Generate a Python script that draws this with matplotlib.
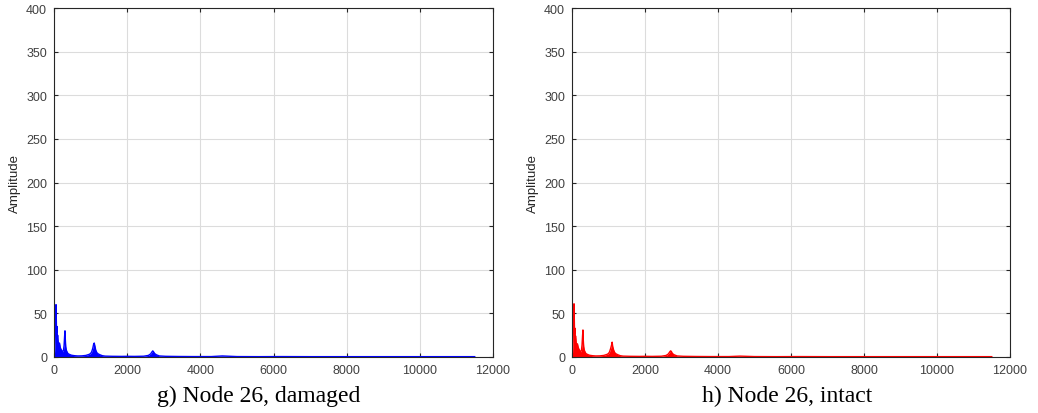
import matplotlib
matplotlib.use("Agg")
import matplotlib.pyplot as plt

# ---- data ----
freq = [0, 15, 30, 45, 55, 62, 70, 80, 90, 100, 115, 130, 150, 170, 190, 215, 240,
        260, 275, 290, 300, 310, 320, 335, 355, 380, 420, 480, 560, 650, 760, 870,
        960, 1000, 1030, 1060, 1085, 1100, 1115, 1140, 1170, 1210, 1260, 1320, 1400,
        1600, 1850, 2000, 2200, 2450, 2580, 2640, 2680, 2700, 2720, 2750, 2800, 2880,
        3050, 3400, 3800, 4300, 4600, 5000, 5600, 6200, 7000, 7800, 8600, 9400,
        10200, 11000, 11500]

amp_damaged = [1, 5, 16, 40, 60, 46, 28, 35, 22, 25, 17, 14, 16, 11, 9, 7, 6,
               8, 13, 24, 30, 20, 12, 8, 6, 4, 3, 2, 1.5, 1.2, 1.3, 1.8,
               3, 4, 6, 10, 15, 16, 13, 8, 5, 3.5, 2.5, 1.5, 1,
               0.8, 0.7, 0.8, 0.7, 0.9, 1.8, 3.5, 6, 7, 6, 4, 2.5, 1.2,
               0.8, 0.6, 0.5, 0.5, 1.2, 0.5, 0.4, 0.5, 0.4, 0.4, 0.4, 0.4,
               0.4, 0.4, 0.4]

amp_intact = [1, 5, 18, 42, 61, 47, 27, 33, 23, 24, 16, 15, 15, 11, 9, 7, 6,
              8, 14, 25, 31, 19, 12, 8, 6, 4, 3, 2, 1.5, 1.2, 1.3, 1.8,
              3, 4, 6, 10, 14, 17, 12, 8, 5, 3.5, 2.5, 1.5, 1,
              0.8, 0.7, 0.8, 0.7, 0.9, 1.8, 3.5, 6, 7, 6.5, 4, 2.5, 1.2,
              0.8, 0.6, 0.5, 0.5, 1, 0.5, 0.4, 0.5, 0.4, 0.4, 0.4, 0.4,
              0.4, 0.4, 0.4]

xticks = [0, 2000, 4000, 6000, 8000, 10000, 12000]
yticks = [0, 50, 100, 150, 200, 250, 300, 350, 400]
captions = ["g) Node 26, damaged", "h) Node 26, intact"]
colors = ["#0000ff", "#ff0000"]

fig = plt.figure(figsize=(10.38, 4.14), dpi=100)
axes_pos = [[54/1038, 56/414, 439/1038, 349/414],
            [572/1038, 56/414, 438/1038, 349/414]]
caption_x = [259/1038, 787/1038]

for pos, amp, col, cap, cx in zip(axes_pos, [amp_damaged, amp_intact], colors,
                                  captions, caption_x):
    ax = fig.add_axes(pos)
    ax.fill_between(freq, 0, amp, color=col, linewidth=0)
    ax.plot(freq, amp, color=col, linewidth=1.0)
    ax.set_xlim(0, 12000)
    ax.set_ylim(0, 400)
    ax.set_xticks(xticks)
    ax.set_yticks(yticks)
    ax.grid(True, color="#dcdcdc", linewidth=0.8)
    ax.set_axisbelow(True)
    ax.tick_params(direction="in", top=True, right=True, length=3,
                   labelsize=9, colors="#262626", labelcolor="#404040", pad=5)
    for sp in ax.spines.values():
        sp.set_color("#262626")
        sp.set_linewidth(0.8)
    for lab in ax.get_xticklabels() + ax.get_yticklabels():
        lab.set_family("Liberation Sans")
    ax.set_ylabel("Amplitude", fontsize=9.5, family="Liberation Sans",
                  color="#262626", labelpad=4)
    fig.text(cx, 12/414, cap, ha="center", va="baseline",
             fontsize=17, family="Liberation Serif", color="black")

fig.savefig("out.png", dpi=100)
